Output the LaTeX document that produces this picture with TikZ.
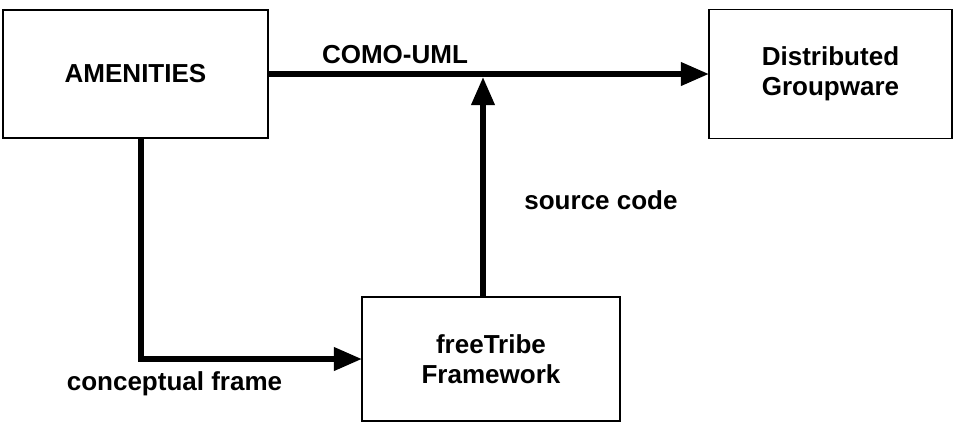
\documentclass[tikz,border=0pt]{standalone}
\usepackage{fontspec}
\setmainfont{Liberation Sans}
\usetikzlibrary{arrows.meta}
\begin{document}
\begin{tikzpicture} [x=0.025cm, y=-0.025cm]
\tikzstyle{every node}=[font=\bfseries\fontsize{18.5}{21.5}\selectfont, align=center, inner sep=0pt, outer sep=0pt];
\tikzstyle{box}=[draw, line width=1pt];
\tikzstyle{arr}=[line width=4pt, -{Triangle[length=20pt, width=16pt]}];
\useasboundingbox (0,0) rectangle (955,424);
\node [box, minimum width=6.625cm, minimum height=3.2cm] (b0) at (135.5,74) {AMENITIES};
\node [box, minimum width=6.075cm, minimum height=3.225cm] (b1) at (830.5,74) {Distributed\\Groupware};
\node [box, minimum width=6.45cm, minimum height=3.1cm] (b2) at (491,359) {freeTribe\\Framework};
\coordinate (c0) at (141,0);
\coordinate (c1) at (483,77);
\draw [arr] (b0) -- (b1); % COMO-UML
\draw [arr] (b2.north -| c1) -- (c1);
\draw [arr] (b0.south -| c0) |- (b2);
\node [anchor=base] (l0) at (395,63) {COMO-UML};
\node [anchor=base] (l1) at (601,209) {source code};
\node [anchor=base] (l2) at (174.5,390) {conceptual frame};
\end{tikzpicture}
\end{document}
